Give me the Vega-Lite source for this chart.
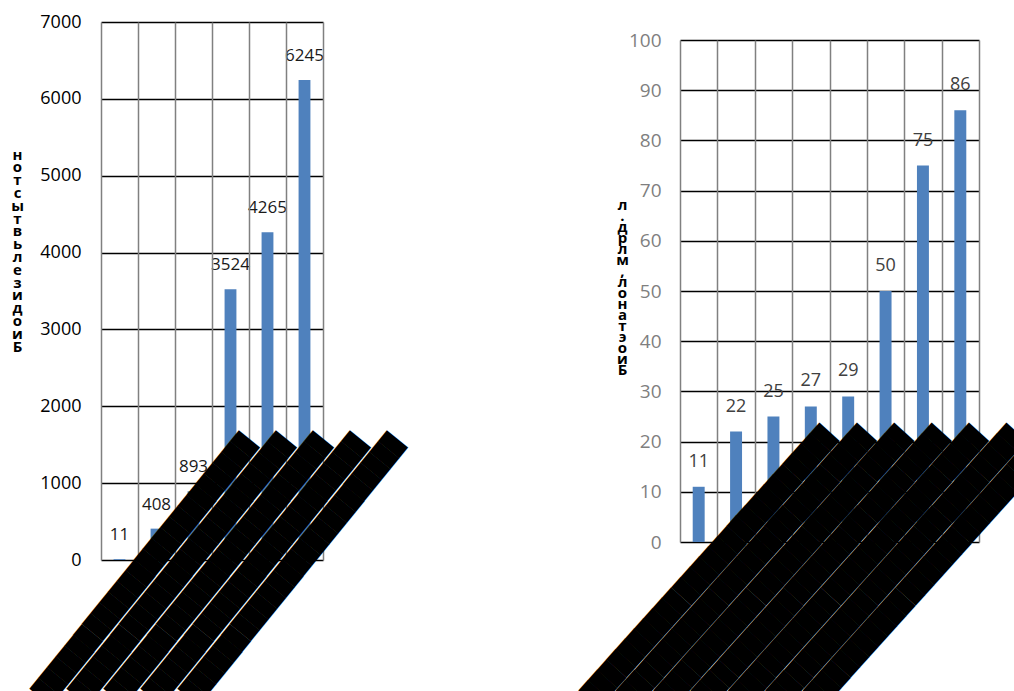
{
  "$schema": "https://vega.github.io/schema/vega-lite/v6.json",
  "padding": {"left": 10, "top": 13, "right": 0, "bottom": 0},
  "background": "white",
  "bounds": "flush",
  "center": true,
  "spacing": 357,
  "config": {"view": {"stroke": null}, "font": "Open Sans"},
  "datasets": {
    "bio": [
      {"cat": "1", "value": 11},
      {"cat": "2", "value": 408},
      {"cat": "3", "value": 893},
      {"cat": "4", "value": 3524},
      {"cat": "5", "value": 4265},
      {"cat": "6", "value": 6245}
    ],
    "eth": [
      {"cat": "1", "value": 11},
      {"cat": "2", "value": 22},
      {"cat": "3", "value": 25},
      {"cat": "4", "value": 27},
      {"cat": "5", "value": 29},
      {"cat": "6", "value": 50},
      {"cat": "7", "value": 75},
      {"cat": "8", "value": 86}
    ]
  },
  "hconcat": [
    {
      "width": 222,
      "height": 538,
      "data": {"name": "bio"},
      "encoding": {
        "x": {
          "field": "cat", "type": "ordinal",
          "scale": {"paddingInner": 0, "paddingOuter": 0},
          "axis": {
            "title": null,
            "labelExpr": "datum.extra || datum.index >= 1 ? '' : '████████████████████████'",
            "labelAngle": -51, "labelAlign": "right", "labelBaseline": "middle",
            "labelFont": "DejaVu Sans Mono", "labelFontSize": 23, "labelColor": "black",
            "labelOffset": 130, "labelPadding": -121, "labelLimit": 0,
            "ticks": false, "domain": false, "grid": true, "tickBand": "extent",
            "gridColor": "#808080", "gridWidth": 1.5, "zindex": 1
          }
        },
        "y": {
          "field": "value", "type": "quantitative",
          "scale": {"domain": [0, 7000]},
          "axis": {
            "values": [0, 1000, 2000, 3000, 4000, 5000, 6000, 7000],
            "format": "d",
            "title": ["н","о","т","с","ы","т"," ","в"," ","ь","л","е","з","и","д","о","и","Б"],
            "titleAngle": 0, "titleX": -84, "titleY": 132,
            "titleAlign": "center", "titleBaseline": "middle",
            "titleFontSize": 15, "titleFontWeight": "bold", "titleLineHeight": 12.8, "titleColor": "black",
            "labelFontSize": 18, "labelColor": "black", "labelPadding": 20,
            "ticks": false, "domain": false,
            "gridColor": "black", "gridWidth": 1.5
          }
        }
      },
      "layer": [
        {"mark": {"type": "bar", "color": "#4f81bd", "width": {"band": 0.32}}},
        {
          "mark": {"type": "text", "baseline": "middle", "dy": -24, "fontSize": 17, "color": "#1a1a1a"},
          "encoding": {"text": {"field": "value", "type": "quantitative", "format": "d"}}
        }
      ]
    },
    {
      "width": 299,
      "height": 502,
      "data": {"name": "eth"},
      "encoding": {
        "x": {
          "field": "cat", "type": "ordinal",
          "scale": {"paddingInner": 0, "paddingOuter": 0},
          "axis": {
            "title": null,
            "labelExpr": "datum.extra || datum.index >= 1 ? '' : '██████████████████████████'",
            "labelAngle": -48, "labelAlign": "right", "labelBaseline": "middle",
            "labelFont": "DejaVu Sans Mono", "labelFontSize": 23, "labelColor": "black",
            "labelOffset": 131, "labelPadding": -110, "labelLimit": 0,
            "ticks": false, "domain": false, "grid": true, "tickBand": "extent",
            "gridColor": "#808080", "gridWidth": 1.5, "zindex": 1
          }
        },
        "y": {
          "field": "value", "type": "quantitative",
          "scale": {"domain": [0, 100]},
          "axis": {
            "values": [0, 10, 20, 30, 40, 50, 60, 70, 80, 90, 100],
            "format": "d",
            "title": ["л",".","д","р","л","м"," ",",","л","о","н","а","т","э","о","и","Б"],
            "titleAngle": 0, "titleX": -58, "titleY": 164,
            "titleAlign": "center", "titleBaseline": "middle",
            "titleFontSize": 15, "titleFontWeight": "bold", "titleLineHeight": 11, "titleColor": "black",
            "labelFontSize": 19, "labelColor": "#7f7f7f", "labelPadding": 19,
            "ticks": false, "domain": false,
            "gridColor": "black", "gridWidth": 1.5
          }
        }
      },
      "layer": [
        {"mark": {"type": "bar", "color": "#4f81bd", "width": {"band": 0.32}}},
        {
          "mark": {"type": "text", "baseline": "middle", "dy": -25, "fontSize": 18, "color": "#404040"},
          "encoding": {"text": {"field": "value", "type": "quantitative", "format": "d"}}
        }
      ]
    }
  ]
}
